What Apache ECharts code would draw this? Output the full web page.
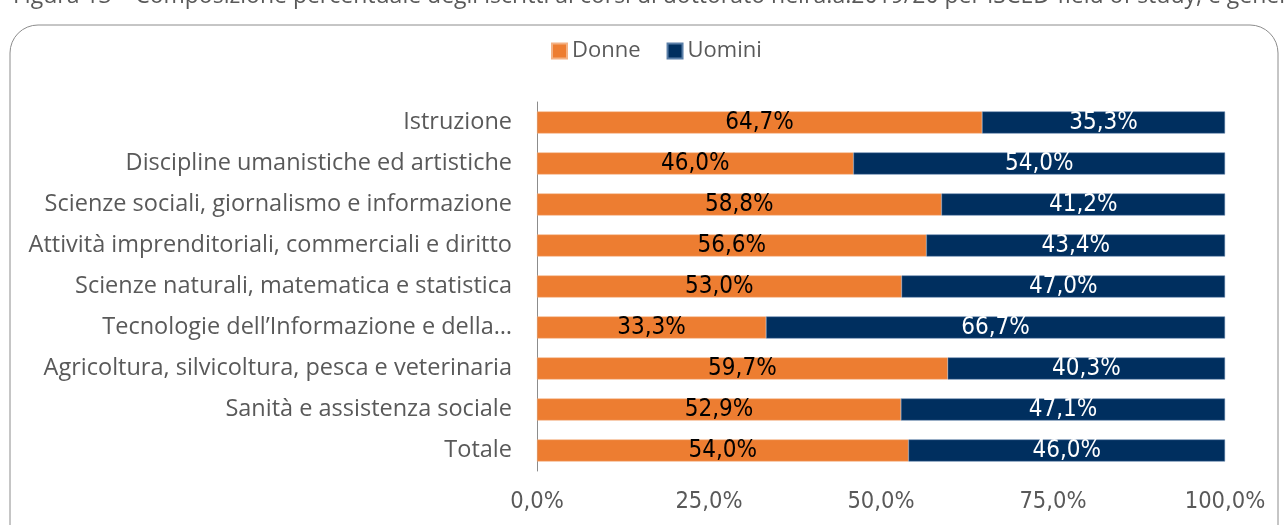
<!DOCTYPE html>
<html>
<head>
<meta charset="utf-8">
<script src="https://cdn.jsdelivr.net/npm/echarts@6/dist/echarts.min.js"></script>
<style>
  html, body { margin: 0; padding: 0; background: #fff; }
  #main { width: 1284px; height: 525px; }
</style>
</head>
<body>
<div id="main"></div>
<script>
// categorie (dall'alto verso il basso)
var categorie = [
  'Istruzione',
  'Discipline umanistiche ed artistiche',
  'Scienze sociali, giornalismo e informazione',
  'Attività imprenditoriali, commerciali e diritto',
  'Scienze naturali, matematica e statistica',
  'Tecnologie dell\u2019Informazione e della\u2026',
  'Agricoltura, silvicoltura, pesca e veterinaria',
  'Sanità e assistenza sociale',
  'Totale'
];
var donne = [64.7, 46.0, 58.8, 56.6, 53.0, 33.3, 59.7, 52.9, 54.0];
var uomini = [35.3, 54.0, 41.2, 43.4, 47.0, 66.7, 40.3, 47.1, 46.0];
var xTicks = [0, 25, 50, 75, 100];

var narrow = '"DejaVu Sans Condensed", "Liberation Sans Narrow", Roboto, sans-serif';

function pct(v) {
  return v.toFixed(1).replace('.', ',') + '%';
}

var myChart = echarts.init(document.getElementById('main'));

var option = {
  backgroundColor: '#ffffff',
  animation: false,
  title: {
    text: 'Figura 13 \u2013 Composizione percentuale degli iscritti ai corsi di dottorato nell\u2019a.a.2019/20 per ISCED-field of study, e genere',
    left: 8,
    top: -20,
    textStyle: { fontFamily: 'Open Sans', fontSize: 23, fontWeight: 'normal', color: '#595959' }
  },
  graphic: [{
    type: 'rect',
    shape: { x: 10, y: 25, width: 1268, height: 540, r: 28 },
    style: { fill: 'none', stroke: '#8c8c8c', lineWidth: 1 },
    silent: true
  }],
  legend: {
    top: 35,
    left: 546,
    itemWidth: 15,
    itemHeight: 15,
    itemGap: 26,
    icon: 'rect',
    textStyle: { fontFamily: 'Open Sans', fontSize: 22, color: '#595959' },
    data: ['Donne', 'Uomini']
  },
  grid: {
    left: 537,
    right: 59,
    top: 102,
    bottom: 54
  },
  xAxis: {
    type: 'value',
    min: 0,
    max: 100,
    interval: 25,
    axisLine: { show: false },
    axisTick: { show: false },
    splitLine: { show: false },
    axisLabel: {
      margin: 19,
      fontFamily: narrow,
      fontSize: 23.5,
      color: '#595959',
      formatter: function (v) { return xTicks.indexOf(v) >= 0 ? pct(v) : ''; }
    }
  },
  yAxis: {
    type: 'category',
    inverse: true,
    data: categorie,
    axisLine: { show: true, lineStyle: { color: '#8c8c8c', width: 1 } },
    axisTick: { show: false },
    axisLabel: {
      margin: 25,
      fontFamily: 'Open Sans',
      fontSize: 23.5,
      color: '#595959'
    }
  },
  series: [{
    name: 'Donne',
    type: 'bar',
    stack: 'tot',
    barWidth: 22,
    data: donne,
    itemStyle: { color: '#ED7D31', borderColor: '#f4b183', borderWidth: 0.5 },
    label: {
      show: true,
      position: 'inside',
      fontFamily: narrow,
      fontSize: 24,
      color: '#000000',
      formatter: function (p) { return pct(p.value); }
    }
  }, {
    name: 'Uomini',
    type: 'bar',
    stack: 'tot',
    barWidth: 22,
    data: uomini,
    itemStyle: { color: '#002F5F', borderColor: '#5a7fa8', borderWidth: 0.5 },
    label: {
      show: true,
      position: 'inside',
      fontFamily: narrow,
      fontSize: 24,
      color: '#ffffff',
      formatter: function (p) { return pct(p.value); }
    }
  }]
};

myChart.setOption(option);
</script>
</body>
</html>
